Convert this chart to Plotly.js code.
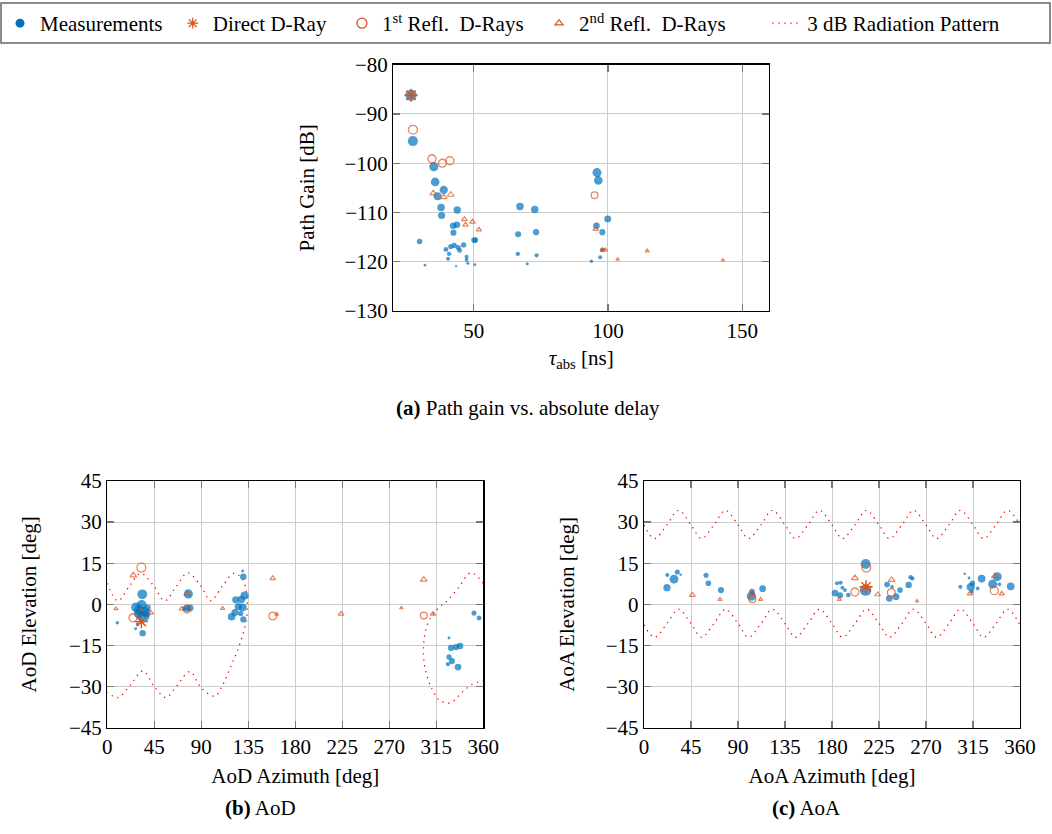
<!DOCTYPE html>
<html>
<head>
<meta charset="utf-8">
<script src="https://cdn.plot.ly/plotly-3.0.1.min.js"></script>
<style>html,body{margin:0;padding:0;background:#fff;}#chart{width:1052px;height:834px;}</style>
</head>
<body>
<div id="chart"></div>
<script>
// ---------------- data ----------------
// Measurements (path gain vs absolute delay)
const measTau  = [26.6, 27.3, 35.1, 35.6, 36.5, 38.8, 37.8, 38.0, 43.8, 42.3, 43.7, 42.4, 50.1, 50.6, 29.8, 39.6, 41.4, 42.7, 44.2, 44.7, 46.2, 40.8, 40.4, 47.3, 47.3, 47.8, 50.4, 31.8, 43.4, 67.2, 72.7, 66.5, 73.2, 66.4, 73.4, 69.9, 95.9, 96.4, 99.9, 95.7, 97.9, 97.9, 97.1, 93.8];
const measGain = [-86.2, -95.5, -100.7, -103.8, -106.7, -105.4, -109.0, -110.6, -109.5, -112.7, -112.5, -114.1, -115.6, -115.6, -115.9, -117.5, -116.9, -116.7, -117.1, -117.7, -116.6, -118.4, -119.4, -119.0, -119.6, -120.3, -120.6, -120.7, -120.9, -108.8, -109.4, -114.4, -114.0, -118.4, -118.7, -120.4, -101.9, -103.5, -111.3, -112.7, -114.0, -117.6, -119.1, -119.9];

// Measurements in AoD domain
const aodMeasAz   = [33.5, 27.4, 32.9, 30.6, 35.4, 34.5, 29.7, 38.6, 37.7, 33.8, 9.6, 27.1, 29.0, 77.6, 76.0, 79.2, 73.4, 130.2, 129.6, 131.5, 128.3, 122.9, 125.4, 129.6, 122.2, 119.0, 127.7, 130.2, 327.2, 329.1, 333.9, 337.7, 327.2, 330.0, 326.2, 335.8, 351.1, 355.9];
const aodMeasEl   = [3.65, -1.1, -0.2, -2.1, -2.7, -4.5, -3.5, -1.2, -3.3, -10.5, -6.7, -8.9, -7.2, 3.8, -1.5, -1.3, -1.6, 10.1, 12.2, 3.2, 1.8, 1.7, -0.85, -1.1, -3.0, -4.5, -3.3, -5.5, -12.3, -15.9, -15.6, -15.2, -19.2, -20.7, -21.8, -22.9, -3.2, -5.0];
const aodMeasGain = [-97, -98, -97, -96, -95, -86.2, -103, -114, -108, -113, -119.9, -120.5, -119.5, -101, -111, -111.5, -119, -113, -120.5, -106, -110, -111, -110, -107, -111, -109, -116.5, -114, -120.5, -114, -114, -113, -116.5, -114, -118.5, -112, -117, -117.5];

// Measurements in AoA domain
const aoaMeasAz   = [22.0, 22.3, 28.7, 31.9, 35.1, 59.4, 61.6, 73.7, 103.4, 102.8, 113.6, 182.9, 184.8, 188.3, 187.7, 189.9, 192.4, 195.6, 212.2, 212.2, 232.7, 234.9, 237.5, 241.3, 245.1, 253.4, 255.3, 257.0, 302.9, 307.1, 311.2, 312.8, 314.4, 313.7, 319.5, 323.3, 333.8, 338.3, 340.2, 351.1];
const aoaMeasEl   = [6.1, 10.7, 9.2, 11.8, 10.8, 10.6, 7.7, 5.2, 4.6, 3.0, 5.7, 4.1, 7.7, 7.9, 3.3, 6.1, 5.2, 3.4, 14.7, 5.2, 7.2, 2.2, 6.4, 2.8, 5.2, 7.1, 9.9, 9.4, 6.4, 11.2, 9.6, 6.3, 7.7, 4.6, 5.8, 9.4, 7.4, 10.1, 7.3, 6.6];
const aoaMeasGain = [-110, -119, -103, -117, -120.8, -117, -115.5, -114, -115, -101, -112, -112, -119, -119, -114, -119.5, -119.5, -118, -97, -86.2, -115.5, -112, -119.5, -112, -115.5, -113, -118, -119, -119, -120.8, -120.5, -106, -116, -119, -119.5, -108, -102, -103, -119.5, -108];

// Direct D-Ray
const dirTau = [26.6], dirGain = [-86.2];
const dirAodAz = [32.6], dirAodEl = [-6.3];
const dirAoaAz = [212.6], dirAoaEl = [6.4];

// 1st order reflected D-Rays
const r1Tau   = [27.3, 34.4, 38.3, 41.1, 95.0];
const r1Gain  = [-93.2, -99.1, -100.0, -99.5, -106.5];
const r1AodAz = [32.6, 24.6, 158.4, 76.3, 303.0];
const r1AodEl = [13.4, -4.9, -4.25, -1.7, -4.1];
const r1AoaAz = [212.9, 202.0, 236.8, 335.4, 103.7];
const r1AoaEl = [13.4, 4.5, 4.3, 5.0, 1.9];

// 2nd order reflected D-Rays
const r2Tau   = [34.9, 38.8, 41.4, 46.5, 46.9, 49.5, 51.9, 95.4, 97.9, 99.0, 114.6, 103.6, 142.8];
const r2Gain  = [-106.1, -106.9, -106.4, -111.4, -112.5, -111.9, -113.5, -113.4, -117.6, -117.6, -117.8, -119.5, -119.7];
const r2AodAz = [24.9, 76.6, 303.0, 41.5, 158.4, 223.8, 71.2, 311.8, 8.3, 110.4, 162.2, 281.5, 33.0];
const r2AodEl = [10.6, 3.8, 9.0, -3.0, 9.5, -3.5, -1.6, -3.5, -1.6, -1.5, -3.6, -1.3, -2.0];
const r2AoaAz = [202.0, 237.1, 336.0, 46.3, 103.7, 223.7, 312.1, 342.5, 72.8, 111.7, 187.0, 261.4, 213.0];
const r2AoaEl = [9.6, 8.9, 10.3, 3.4, 4.0, 3.6, 3.9, 3.9, 1.8, 1.8, 1.8, 1.2, 6.0];

// 3 dB radiation pattern contours
const aodPatAz = [0, 10, 21, 32, 44, 55, 66, 77, 89, 99, 110, 121, 129, 133, 134, 133, 129, 124, 119, 114, 109, 103, 90, 79, 67, 56, 45, 34, 22, 10, 0,
                  null,
                  360, 348, 337, 326, 318, 311, 306, 303, 303, 306, 311, 318, 328, 340, 350, 360];
const aodPatEl = [7.7, 1.3, 6.5, 11.3, 7, 1.3, 6.5, 11.5, 7, 1.3, 6.5, 11.3, 9.5, 5, 0, -6, -12, -17.5, -22, -26.5, -30.5, -33.5, -30.5, -24.5, -29.5, -34, -30, -24.3, -29.5, -34, -32,
                  null,
                  7.7, 11.5, 6.5, 1.5, -1, -4, -8, -14, -20, -26, -31, -35, -36, -32, -29, -28];
const aoaPatAz = [0, 10, 22, 33, 45, 55, 67, 78, 90, 100, 112, 123, 135, 145, 157, 168, 180, 190, 202, 213, 225, 235, 247, 258, 270, 280, 292, 303, 315, 325, 337, 348, 360];
const aoaPatUp = [29, 24, 29, 34.3, 29, 24, 29, 34.3, 29, 24, 29, 34.3, 29, 24, 29, 34.3, 29, 24, 29, 34.3, 29, 24, 29, 34.3, 29, 24, 29, 34.3, 29, 24, 29, 34.3, 29];
const aoaPatLo = [-7.5, -12, -7, -1.8, -7, -12, -7, -1.8, -7, -12, -7, -1.8, -7, -12, -7, -1.8, -7, -12, -7, -1.8, -7, -12, -7, -1.8, -7, -12, -7, -1.8, -7, -12, -7, -1.8, -7.5];

const legendNames = ['Measurements\u00a0', 'Direct D-Ray\u00a0\u00a0', '1<sup>st</sup> Refl.\u00a0 D-Rays\u00a0\u00a0', '2<sup>nd</sup> Refl.\u00a0 D-Rays\u00a0\u00a0\u00a0\u00a0\u00a0\u00a0\u00a0', '3 dB Radiation Pattern'];
const captions = ['<b>(a)</b> Path gain vs. absolute delay', '<b>(b)</b> AoD', '<b>(c)</b> AoA'];

// ---------------- styles ----------------
const FONT = '"Liberation Serif", "Times New Roman", serif';
const BLUE = '#0072BD', ORANGE = '#D95319', RED = '#ff0000';
const DOT = '1.3px,4.7px';
const GMIN = -121;
const root = g => Math.sqrt(Math.max(g - GMIN, 0));
const sizeMeas = gs => gs.map(g => 1.8 + 1.65 * root(g));
const sizeR1   = gs => gs.map(g => 1.5 + 1.4 * root(g));
const sizeR2   = gs => gs.map(g => 1.6 + 1.15 * root(g));

const traces = [];
// legend-only entries
traces.push({x:[null], y:[null], type:'scatter', mode:'markers', name:legendNames[0], xaxis:'x', yaxis:'y',
  marker:{symbol:'circle', size:9, color:BLUE}});
traces.push({x:[null], y:[null], type:'scatter', mode:'markers', name:legendNames[1], xaxis:'x', yaxis:'y',
  marker:{symbol:'asterisk-open', size:9, color:ORANGE, line:{color:ORANGE, width:1.2}}});
traces.push({x:[null], y:[null], type:'scatter', mode:'markers', name:legendNames[2], xaxis:'x', yaxis:'y',
  marker:{symbol:'circle-open', size:10, color:ORANGE, line:{color:ORANGE, width:1.3}}});
traces.push({x:[null], y:[null], type:'scatter', mode:'markers', name:legendNames[3], xaxis:'x', yaxis:'y',
  marker:{symbol:'triangle-up-open', size:7, color:ORANGE, line:{color:ORANGE, width:1.2}}});
traces.push({x:[null], y:[null], type:'scatter', mode:'lines', name:legendNames[4], xaxis:'x', yaxis:'y',
  line:{color:RED, width:1.3, dash:DOT}});

function addSet(ax, ay, mx, my, mg, dx, dy, r1x, r1y, r2x, r2y, pat) {
  if (pat) pat.forEach(p => traces.push({x:p.x, y:p.y, type:'scatter', mode:'lines', showlegend:false, hoverinfo:'skip',
    xaxis:ax, yaxis:ay, connectgaps:false, line:{color:RED, width:1.3, dash:DOT, shape:'spline', smoothing:1}}));
  traces.push({x:mx, y:my, type:'scatter', mode:'markers', showlegend:false, xaxis:ax, yaxis:ay,
    marker:{symbol:'circle', size:sizeMeas(mg), color:BLUE, line:{width:0}}});
  traces.push({x:r2x, y:r2y, type:'scatter', mode:'markers', showlegend:false, xaxis:ax, yaxis:ay,
    marker:{symbol:'triangle-up-open', size:sizeR2(r2Gain), color:ORANGE, line:{color:ORANGE, width:1.2}}});
  traces.push({x:r1x, y:r1y, type:'scatter', mode:'markers', showlegend:false, xaxis:ax, yaxis:ay,
    marker:{symbol:'circle-open', size:sizeR1(r1Gain), color:ORANGE, line:{color:ORANGE, width:1.3}}});
  traces.push({x:dx, y:dy, type:'scatter', mode:'markers', showlegend:false, xaxis:ax, yaxis:ay,
    marker:{symbol:'asterisk-open', size:11, color:ORANGE, line:{color:ORANGE, width:1.4}}});
}
addSet('x', 'y', measTau, measGain, measGain, dirTau, dirGain, r1Tau, r1Gain, r2Tau, r2Gain, null);
addSet('x2', 'y2', aodMeasAz, aodMeasEl, aodMeasGain, dirAodAz, dirAodEl, r1AodAz, r1AodEl, r2AodAz, r2AodEl,
  [{x:aodPatAz, y:aodPatEl}]);
addSet('x3', 'y3', aoaMeasAz, aoaMeasEl, aoaMeasGain, dirAoaAz, dirAoaEl, r1AoaAz, r1AoaEl, r2AoaAz, r2AoaEl,
  [{x:aoaPatAz, y:aoaPatUp}, {x:aoaPatAz, y:aoaPatLo}]);

const W = 1052, H = 834, T = 44;
const px = v => v / W, py = v => 1 - (v - T) / (H - T);
const axBase = {showline:true, linecolor:'#000', linewidth:1.3, mirror:'ticks', ticks:'inside', ticklen:7,
  tickcolor:'#777', tickwidth:1.3, showgrid:true, gridcolor:'#cccccc', gridwidth:1, zeroline:false,
  tickfont:{family:FONT, size:21, color:'#000'}, fixedrange:true, automargin:false};
const titleFont = {family:FONT, size:21, color:'#000'};

const layout = {
  width:W, height:H, margin:{l:0, r:0, t:T, b:0}, paper_bgcolor:'#fff', plot_bgcolor:'#fff',
  font:{family:FONT, size:21, color:'#000'}, showlegend:true,
  legend:{orientation:'h', x:0, xanchor:'left', y:1, yanchor:'bottom', bgcolor:'rgba(0,0,0,0)',
    borderwidth:0, font:{family:FONT, size:21, color:'#000'}, traceorder:'normal', itemclick:false},
  xaxis: Object.assign({}, axBase, {domain:[px(393.3), px(769)], range:[20, 160], tick0:0, dtick:50, anchor:'y',
    title:{text:'<i>τ</i><sub>abs</sub> [ns]', font:titleFont, standoff:8}}),
  yaxis: Object.assign({}, axBase, {domain:[py(311), py(64.7)], range:[-130, -80], dtick:10, anchor:'x',
    title:{text:'Path Gain [dB]', font:titleFont, standoff:24}}),
  xaxis2: Object.assign({}, axBase, {domain:[px(107.3), px(483.3)], range:[0, 360], tick0:0, dtick:45, anchor:'y2',
    title:{text:'AoD Azimuth [deg]', font:titleFont, standoff:10}}),
  yaxis2: Object.assign({}, axBase, {domain:[py(727.7), py(481)], range:[-45, 45], tick0:0, dtick:15, anchor:'x2',
    title:{text:'AoD Elevation [deg]', font:titleFont, standoff:26}}),
  xaxis3: Object.assign({}, axBase, {domain:[px(644), px(1020)], range:[0, 360], tick0:0, dtick:45, anchor:'y3',
    title:{text:'AoA Azimuth [deg]', font:titleFont, standoff:10}}),
  yaxis3: Object.assign({}, axBase, {domain:[py(727.7), py(481)], range:[-45, 45], tick0:0, dtick:15, anchor:'x3',
    title:{text:'AoA Elevation [deg]', font:titleFont, standoff:25}}),
  shapes:[{type:'rect', xref:'paper', yref:'paper', x0:px(1), x1:px(1050), y0:py(43), y1:py(3),
    line:{color:'#666', width:1.5}, fillcolor:'rgba(0,0,0,0)'}],
  annotations:[
    {text:captions[0], xref:'paper', yref:'paper', x:px(528), y:py(408), showarrow:false, xanchor:'center', yanchor:'middle', font:titleFont},
    {text:captions[1], xref:'paper', yref:'paper', x:px(260), y:py(808), showarrow:false, xanchor:'center', yanchor:'middle', font:titleFont},
    {text:captions[2], xref:'paper', yref:'paper', x:px(806), y:py(808), showarrow:false, xanchor:'center', yanchor:'middle', font:titleFont}
  ]
};
Plotly.newPlot('chart', traces, layout, {staticPlot:true, displayModeBar:false});
</script>
</body>
</html>
